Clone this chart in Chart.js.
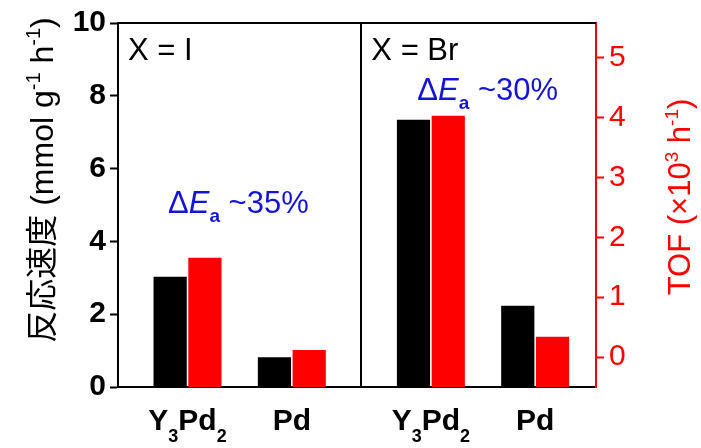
<!DOCTYPE html>
<html>
<head>
<meta charset="utf-8">
<script src="https://cdn.jsdelivr.net/npm/chart.js@4"></script>
<style>
  html, body { margin: 0; padding: 0; background: #fff; }
  #wrap { width: 701px; height: 448px; }
</style>
</head>
<body>
<div id="wrap"><canvas id="c" width="701" height="448"></canvas></div>
<script>
// Halide panels and catalysts
const halides = ['I', 'Br'];
const catalysts = ['Y3Pd2', 'Pd'];

// Reaction rate (mmol g^-1 h^-1), left axis
const rateIodide = [3.03, 0.82];
const rateBromide = [7.34, 2.23];

// TOF (x10^3 h^-1), right axis
const tofIodide = [1.66, 0.12];
const tofBromide = [4.03, 0.34];

// Activation-energy reduction per panel
const activationDrop = ['~35%', '~30%'];

// Tick values
const rateTicks = [0, 2, 4, 6, 8, 10];
const tofTicks = [0, 1, 2, 3, 4, 5];

// ---- layout (x-scale units) ----
const PANEL_SPAN = 7;          // width of one halide panel
const GROUP_SLOTS = [2, 5];    // group centres inside a panel
const X_MAX = 13.75;
const RATE_MIN = 0, RATE_MAX = 10;
const TOF_MIN = -0.5, TOF_MAX = 5.58;
// where the ΔEa note sits in each panel: [x offset in panel, rate-axis baseline]
const NOTE_ANCHORS = [[1.44, 4.78], [1.61, 7.88]];

const FONT = '"Liberation Sans", Arial, "Noto Sans CJK JP", "Noto Sans CJK SC", sans-serif';
const RED = '#ff0000';
const BLUE = '#1414d6';

const groupX = (panel, i) => panel * PANEL_SPAN + GROUP_SLOTS[i];
const points = (perPanel) => perPanel.flatMap((vals, p) => vals.map((v, i) => ({ x: groupX(p, i), y: v })));
const tickPositions = halides.flatMap((_, p) => catalysts.map((_, i) => groupX(p, i)));

// draw a run of text pieces [text, font, dy] one after another
function drawRich(ctx, segs, x, y, align) {
  let w = 0;
  for (const s of segs) { ctx.font = s[1]; w += ctx.measureText(s[0]).width; }
  let cx = align === 'center' ? x - w / 2 : x;
  ctx.textAlign = 'left';
  ctx.textBaseline = 'alphabetic';
  for (const s of segs) {
    ctx.font = s[1];
    ctx.fillText(s[0], cx, y + (s[2] || 0));
    cx += ctx.measureText(s[0]).width;
  }
}

// chemical formula: digits are set as subscripts
function formula(name, size, weight) {
  return name.split(/(\d+)/).filter(Boolean).map(part =>
    /\d/.test(part)
      ? [part, `${weight} ${Math.round(size * 0.6)}px ${FONT}`, size * 0.4]
      : [part, `${weight} ${size}px ${FONT}`, 0]);
}

const f = (size, style) => `${style || 'normal'} ${size}px ${FONT}`;

const panelDecor = {
  id: 'panelDecor',
  afterDatasetsDraw(chart) {
    const { ctx, chartArea: a, scales: { x, y } } = chart;
    ctx.save();
    ctx.strokeStyle = '#000';
    ctx.lineWidth = 2;
    // top frame
    ctx.beginPath();
    ctx.moveTo(a.left - 1, a.top);
    ctx.lineTo(a.right, a.top);
    ctx.stroke();
    // panel divider
    const dx = Math.round(x.getPixelForValue(PANEL_SPAN));
    ctx.beginPath();
    ctx.moveTo(dx, a.top);
    ctx.lineTo(dx, a.bottom);
    ctx.stroke();

    halides.forEach((h, p) => {
      // panel caption
      ctx.fillStyle = '#000';
      ctx.font = f(31);
      ctx.textAlign = 'left';
      ctx.textBaseline = 'alphabetic';
      ctx.fillText('X = ' + h, x.getPixelForValue(p * PANEL_SPAN) + 10, a.top + 36.5);

      // ΔEa note
      ctx.fillStyle = BLUE;
      const [nx, ny] = NOTE_ANCHORS[p];
      drawRich(ctx, [
        ['\u0394', f(31)],
        ['E', f(31, 'italic')],
        ['a', f(19, 'bold'), 9],
        [' ' + activationDrop[p], f(31)]
      ], x.getPixelForValue(p * PANEL_SPAN + nx), y.getPixelForValue(ny), 'left');

      // catalyst labels under the axis
      ctx.fillStyle = '#000';
      catalysts.forEach((c, i) => {
        drawRich(ctx, formula(c, 30, 'bold'), x.getPixelForValue(groupX(p, i)), a.bottom + 43, 'center');
      });
    });
    ctx.restore();
  },
  afterDraw(chart) {
    const { ctx } = chart;
    ctx.save();
    // left axis title
    ctx.translate(53, 180);
    ctx.rotate(-Math.PI / 2);
    ctx.fillStyle = '#000';
    drawRich(ctx, [
      ['\u53CD\u5FDC\u901F\u5EA6 (mmol g', f(32)],
      ['-1', f(20), -13],
      [' h', f(32)],
      ['-1', f(20), -13],
      [')', f(32)]
    ], 0, 0, 'center');
    ctx.restore();

    ctx.save();
    // right axis title
    ctx.translate(690, 197);
    ctx.rotate(-Math.PI / 2);
    ctx.fillStyle = RED;
    drawRich(ctx, [
      ['TOF (\u00D710', f(31)],
      ['3', f(19), -12],
      [' h', f(31)],
      ['-1', f(19), -12],
      [')', f(31)]
    ], 0, 0, 'center');
    ctx.restore();
  }
};

new Chart(document.getElementById('c'), {
  type: 'bar',
  data: {
    datasets: [
      {
        label: 'rate',
        data: points([rateIodide, rateBromide]),
        yAxisID: 'y',
        backgroundColor: '#000000',
        borderWidth: 0
      },
      {
        label: 'TOF',
        data: points([tofIodide, tofBromide]),
        yAxisID: 'y1',
        backgroundColor: RED,
        base: TOF_MIN,
        borderWidth: 0
      }
    ]
  },
  options: {
    responsive: false,
    animation: false,
    devicePixelRatio: 1,
    layout: { padding: { top: 23, left: 0, right: 0, bottom: 0 } },
    datasets: { bar: { categoryPercentage: 2 / 3, barPercentage: 0.955 } },
    plugins: { legend: { display: false }, tooltip: { enabled: false } },
    scales: {
      x: {
        type: 'linear',
        min: 0,
        max: X_MAX,
        offset: false,
        grid: { display: false },
        border: { color: '#000', width: 2 },
        ticks: { display: false },
        afterBuildTicks: s => { s.ticks = tickPositions.map(v => ({ value: v })); },
        afterFit: s => { s.height = 61; }
      },
      y: {
        position: 'left',
        min: RATE_MIN,
        max: RATE_MAX,
        afterBuildTicks: s => { s.ticks = rateTicks.map(v => ({ value: v })); },
        afterFit: s => { s.width = 118; },
        grid: { drawOnChartArea: false, tickLength: 8, tickWidth: 2, tickColor: '#000', color: '#000' },
        border: { color: '#000', width: 2 },
        ticks: { color: '#000', padding: 4, font: { family: FONT, size: 30, weight: 'bold' } }
      },
      y1: {
        position: 'right',
        min: TOF_MIN,
        max: TOF_MAX,
        afterBuildTicks: s => { s.ticks = tofTicks.map(v => ({ value: v })); },
        afterFit: s => { s.width = 105; },
        grid: { drawOnChartArea: false, tickLength: 8, tickWidth: 2, tickColor: RED, color: RED },
        border: { color: RED, width: 2 },
        ticks: { color: RED, padding: 5, font: { family: FONT, size: 30 } }
      }
    }
  },
  plugins: [panelDecor]
});
</script>
</body>
</html>
